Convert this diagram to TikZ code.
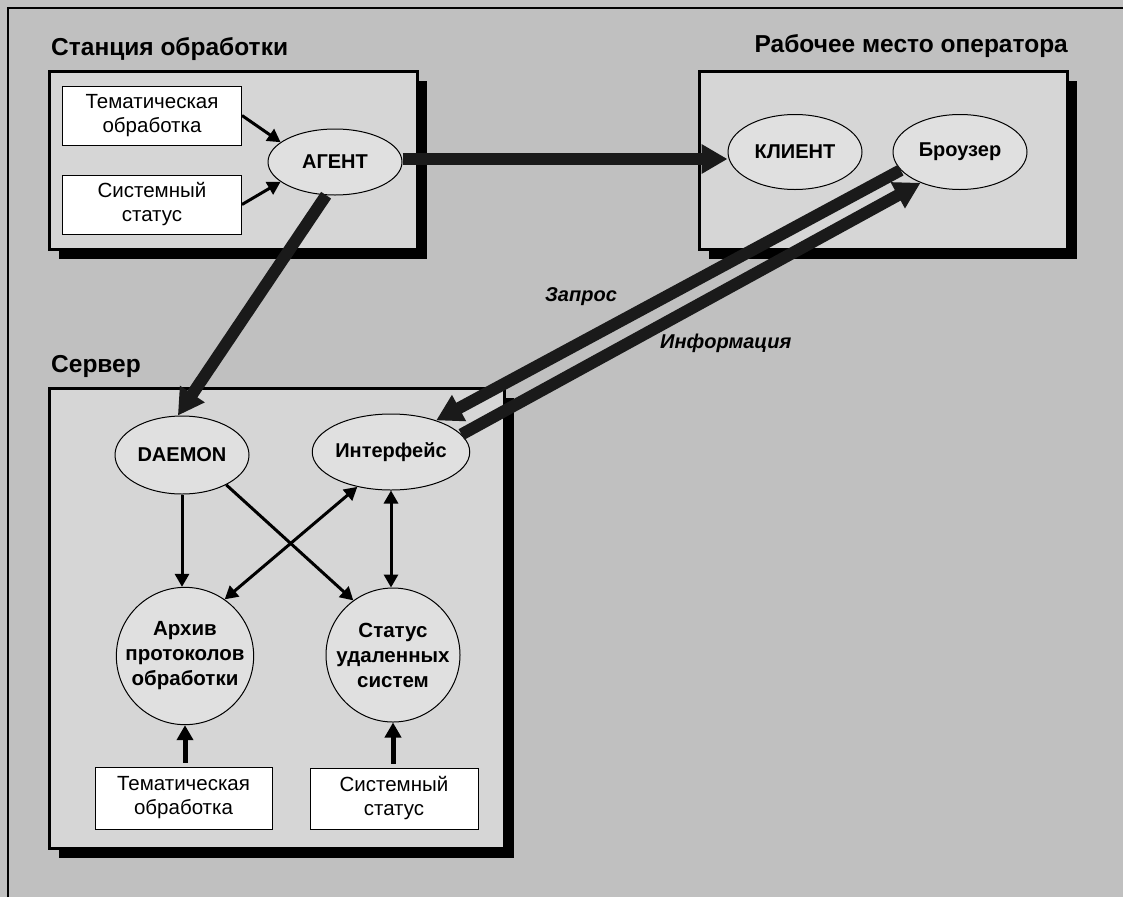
\documentclass[tikz,border=0pt]{standalone}
\usepackage{fontspec}
\setmainfont{Liberation Sans}
\usetikzlibrary{arrows.meta,shapes.geometric,shadows}
\definecolor{bgc}{HTML}{C0C0C0}
\definecolor{boxc}{HTML}{D6D6D6}
\definecolor{ellc}{HTML}{E0E0E0}
\definecolor{arrc}{HTML}{1A1A1A}
\begin{document}
\begin{tikzpicture}[x=1pt,y=-1pt,
 panel/.style={rectangle,draw=black,line width=3pt,fill=boxc,inner sep=0,
   general shadow={fill=black,shadow xshift=10pt,shadow yshift=-10pt}},
 title/.style={font=\fontsize{24.5}{28}\selectfont\bfseries,inner sep=0},
 src/.style={rectangle,draw=black,line width=1pt,fill=white,minimum height=59pt,align=center,inner sep=0,font=\fontsize{20.5}{24}\selectfont},
 proc/.style={ellipse,draw=black,line width=1pt,fill=ellc,minimum width=134pt,inner sep=0,font=\fontsize{20}{22}\selectfont\bfseries},
 store/.style={circle,draw=black,line width=1pt,fill=ellc,minimum size=134pt,inner sep=0,align=center,font=\fontsize{20.5}{25}\selectfont\bfseries},
 thin/.style={draw=black,line width=3pt,-{Triangle[length=13pt,width=14pt]}},
 both/.style={draw=black,line width=3pt,{Triangle[length=13pt,width=14pt]}-{Triangle[length=13pt,width=14pt]}},
 feed/.style={draw=black,line width=5pt,-{Triangle[length=15pt,width=16pt]}},
 fat/.style={draw=arrc,line width=12pt,-{Triangle[length=26pt,width=28pt]}},
 lbl/.style={font=\fontsize{20}{24}\selectfont\bfseries\itshape,inner sep=0}
]
\fill[bgc] (0,0) rectangle (1123,897);
\useasboundingbox (0,0) rectangle (1123,897);
\draw[line width=2pt] (8,897) -- (8,8) -- (1123,8);

% panels
\node[panel,minimum width=368pt,minimum height=178pt] (station) at (233,160) {};
\node[panel,minimum width=368pt,minimum height=178pt] (operator) at (883,160) {};
\node[panel,minimum width=455pt,minimum height=460pt] (server) at (276.5,618) {};

% titles
\node[title,anchor=base west] (tstation) at (51,55) {Станция обработки};
\node[title,anchor=base east] (toperator) at (1068,52) {Рабочее место оператора};
\node[title,anchor=base west] (tserver) at (51,372) {Сервер};

% station
\node[src,minimum width=179pt] (tem1) at (152,115.5) {Тематическая\\обработка};
\node[src,minimum width=179pt] (sys1) at (152,204.5) {Системный\\статус};
\node[proc,minimum height=66pt] (agent) at (335,162) {АГЕНТ};

% operator
\node[proc,minimum height=75pt] (client) at (795,152) {КЛИЕНТ};
\node[proc,minimum height=75pt] (browser) at (960,152) {Броузер};

% server
\node[proc,minimum height=78pt] (daemon) at (182,455) {DAEMON};
\node[proc,minimum height=76pt] (iface) at (391,452) {Интерфейс};
\node[store,minimum size=133pt] (arch) at (185,656) {Архив\\протоколов\\обработки};
\node[store] (stat) at (393,655) {Статус\\удаленных\\систем};
\node[src,minimum width=177pt,minimum height=62pt] (tem2) at (183.5,798) {Тематическая\\обработка};
\node[src,minimum width=168pt,minimum height=61pt] (sys2) at (394,798.5) {Системный\\статус};

% station arrows
\draw[thin] (tem1.east) -- (agent.160);
\draw[thin] (sys1.east) -- (agent.200);

% fat arrows
\draw[fat] ([yshift=3pt]agent.east) -- ([yshift=3pt]agent.east -| client.west);
\draw[fat] (agent.255) -- (daemon.96);
\draw[fat] (browser.197) -- (iface.35);
\draw[fat] (iface.14) -- (browser.218);

% server arrows
\draw[thin] (daemon.south) -- (daemon.south |- arch.north);
\draw[thin] (daemon.-34) -- (stat.126);
\draw[both] (iface.226) -- (arch.55);
\draw[both] (iface.south) -- (iface.south |- stat.north);
\draw[feed] ([yshift=4pt]tem2.north -| arch.south) -- (arch.south);
\draw[feed] ([yshift=4pt]sys2.north -| stat.south) -- (stat.south);

% labels
\node[lbl] (lzapros) at (581,297) {Запрос};
\node[lbl,anchor=west] (linfo) at (660,343) {Информация};
\end{tikzpicture}
\end{document}
